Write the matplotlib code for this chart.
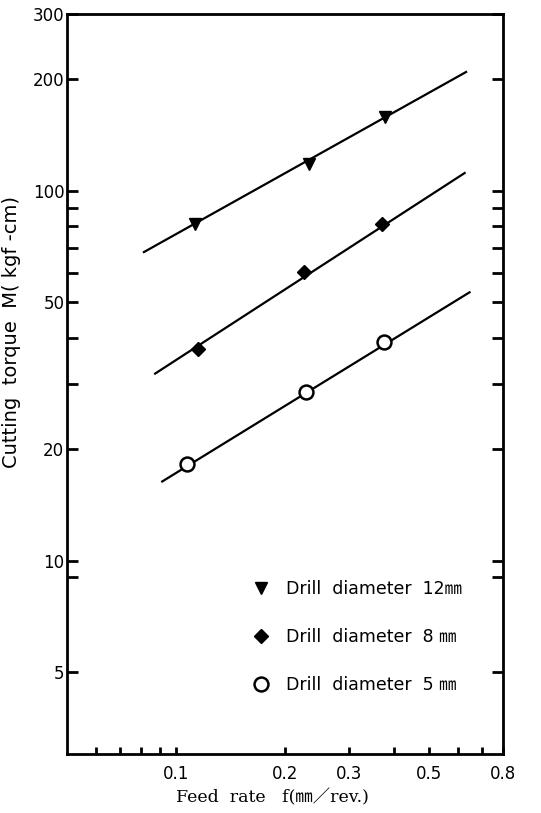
import matplotlib
matplotlib.use("Agg")
import matplotlib.pyplot as plt
from matplotlib.ticker import FixedLocator, NullFormatter, FixedFormatter

plt.rcParams['font.family'] = ['DejaVu Sans', 'Noto Sans CJK JP']

# measured points, feed rate (mm/rev) vs cutting torque (kgf-cm)
feed_12 = [0.113, 0.233, 0.377]
torque_12 = [81, 118, 158]
feed_8 = [0.115, 0.225, 0.370]
torque_8 = [37.3, 60.3, 81]
feed_5 = [0.107, 0.228, 0.375]
torque_5 = [18.2, 28.5, 39.0]

# end points of the fitted lines
fit_12_x = [0.081, 0.636]
fit_12_y = [68, 210]
fit_8_x = [0.087, 0.63]
fit_8_y = [31.9, 112]
fit_5_x = [0.091, 0.65]
fit_5_y = [16.3, 53.3]

labels = ["Drill  diameter  12㎜", "Drill  diameter  8 ㎜", "Drill  diameter  5 ㎜"]

x_major = [0.1, 0.2, 0.3, 0.4, 0.5, 0.6, 0.7, 0.8]
x_labels = ["0.1", "0.2", "0.3", "", "0.5", "", "", "0.8"]
x_minor = [0.06, 0.07, 0.08, 0.09]
y_major = [5, 9, 10, 20, 30, 40, 50, 60, 70, 80, 90, 100, 200, 300]
y_labels = ["5", "", "10", "20", "", "", "50", "", "", "", "", "100", "200", "300"]

fig = plt.figure(figsize=(5.41, 8.13), dpi=100)
ax = fig.add_axes([0.124, 0.0726, 0.806, 0.910])
ax.set_xscale("log")
ax.set_yscale("log")
ax.set_xlim(0.05, 0.8)
ax.set_ylim(3, 300)

for fx, fy in [(fit_12_x, fit_12_y), (fit_8_x, fit_8_y), (fit_5_x, fit_5_y)]:
    ax.plot(fx, fy, color="black", lw=1.6, solid_capstyle="butt")

h1, = ax.plot(feed_12, torque_12, linestyle="none", marker="v", ms=9,
              color="black", label=labels[0])
h2, = ax.plot(feed_8, torque_8, linestyle="none", marker="D", ms=7,
              color="black", label=labels[1])
h3, = ax.plot(feed_5, torque_5, linestyle="none", marker="o", ms=10,
              markerfacecolor="white", markeredgecolor="black", mew=1.8,
              label=labels[2])

ax.xaxis.set_major_locator(FixedLocator(x_major))
ax.xaxis.set_major_formatter(FixedFormatter(x_labels))
ax.xaxis.set_minor_locator(FixedLocator(x_minor))
ax.xaxis.set_minor_formatter(NullFormatter())
ax.yaxis.set_major_locator(FixedLocator(y_major))
ax.yaxis.set_major_formatter(FixedFormatter(y_labels))
ax.yaxis.set_minor_locator(FixedLocator([]))

ax.tick_params(axis="x", which="both", direction="in", length=5, width=2,
               labelsize=12, pad=8)
ax.tick_params(axis="y", which="major", direction="in", length=8, width=2,
               labelsize=12, pad=2, right=True)

for s in ax.spines.values():
    s.set_linewidth(2)

ax.set_xlabel("Feed  rate   f(㎜／rev.)", fontsize=12.5,
              family=["DejaVu Serif", "Noto Sans CJK JP"])
ax.xaxis.set_label_coords(0.47, -0.047)
ax.set_ylabel("Cutting  torque  M( kgf -cm)", fontsize=14)
ax.yaxis.set_label_coords(-0.105, 0.57)

ax.legend(handles=[h1, h2, h3], loc="upper left", bbox_to_anchor=(0.41, 0.245),
          frameon=False, fontsize=12.5, labelspacing=1.75, handletextpad=0.9,
          handlelength=1.0, borderaxespad=0)

fig.savefig("out.png", dpi=100)
